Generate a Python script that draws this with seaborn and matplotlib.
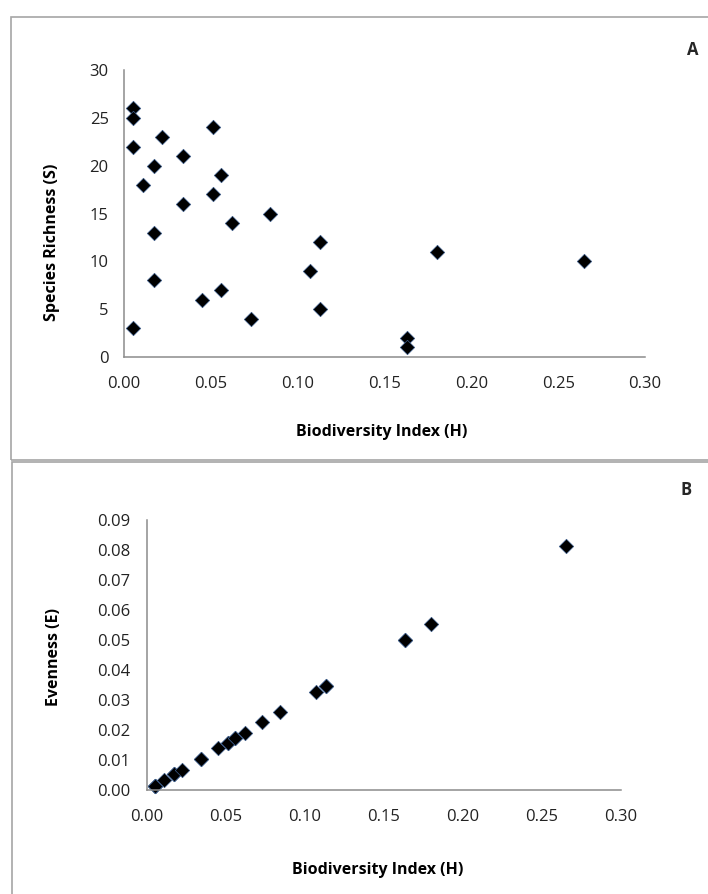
import matplotlib
matplotlib.use("Agg")
import matplotlib.pyplot as plt
import seaborn as sns
import pandas as pd
from matplotlib.patches import Rectangle
from matplotlib.ticker import FormatStrFormatter, MultipleLocator

# Biodiversity index (H) per site, species richness (S) and evenness (E)
H = [0.005, 0.005, 0.005, 0.005, 0.011, 0.017, 0.017, 0.017, 0.022, 0.034,
     0.034, 0.045, 0.051, 0.051, 0.056, 0.056, 0.062, 0.073, 0.084, 0.107,
     0.113, 0.113, 0.163, 0.163, 0.180, 0.265]
S = [26, 25, 22, 3, 18, 20, 13, 8, 23, 21,
     16, 6, 24, 17, 19, 7, 14, 4, 15, 9,
     12, 5, 2, 1, 11, 10]
E = [0.0015, 0.0015, 0.0015, 0.0015, 0.0035, 0.0052, 0.0052, 0.0052, 0.0067, 0.0103,
     0.0103, 0.0139, 0.0156, 0.0156, 0.0173, 0.0173, 0.0190, 0.0226, 0.0260, 0.0328,
     0.0348, 0.0348, 0.0501, 0.0501, 0.0553, 0.0813]

df = pd.DataFrame({"H": H, "S": S, "E": E})

sns.set_style("white")
plt.rcParams["font.family"] = ["Open Sans", "DejaVu Sans"]

W, Hpx = 708, 894
fig = plt.figure(figsize=(W / 100, Hpx / 100), dpi=100)


def fx(px):
    return px / W


def fy(py):
    return 1 - py / Hpx


# panel frames (they run off the right / bottom edge like the original)
fig.patches.append(Rectangle((fx(10.5), fy(460)), fx(720), fy(17.5) - fy(460),
                             transform=fig.transFigure, fill=False,
                             edgecolor="#a6a6a6", linewidth=1.2))
fig.patches.append(Rectangle((fx(12), fy(900)), fx(720), fy(461.5) - fy(900),
                             transform=fig.transFigure, fill=False,
                             edgecolor="#a6a6a6", linewidth=1.2))

axA = fig.add_axes([fx(124), fy(357), fx(645) - fx(124), fy(70) - fy(357)])
axB = fig.add_axes([fx(147), fy(790), fx(621) - fx(147), fy(520) - fy(790)])

marker_kw = dict(marker="D", s=54, color="black", edgecolor="#3b5b8a", linewidth=0.5)
sns.scatterplot(data=df, x="H", y="S", ax=axA, **marker_kw)
sns.scatterplot(data=df, x="H", y="E", ax=axB, **marker_kw)


def style(ax, ymax, ystep, yfmt, ypad):
    ax.set_xlim(0, 0.30)
    ax.set_ylim(0, ymax)
    ax.xaxis.set_major_locator(MultipleLocator(0.05))
    ax.yaxis.set_major_locator(MultipleLocator(ystep))
    ax.xaxis.set_major_formatter(FormatStrFormatter("%.2f"))
    ax.yaxis.set_major_formatter(FormatStrFormatter(yfmt))
    for side in ["top", "right"]:
        ax.spines[side].set_visible(False)
    for side in ["left", "bottom"]:
        ax.spines[side].set_color("#8c8c8c")
        ax.spines[side].set_linewidth(1.1)
    ax.tick_params(axis="both", direction="out", length=5, width=1.1,
                   color="#8c8c8c", labelsize=12, labelcolor="#222222")
    ax.tick_params(axis="x", pad=9)
    ax.tick_params(axis="y", pad=ypad)
    ax.set_xlabel("")
    ax.set_ylabel("")
    for c in ax.collections:
        c.set_clip_on(False)


style(axA, 30, 5, "%d", 6)
style(axB, 0.09, 0.01, "%.2f", 7)

lab = dict(fontsize=11.5, fontweight="bold", color="black", ha="center", va="center")
fig.text(fx(382), fy(432), "Biodiversity Index (H)", **lab)
fig.text(fx(52), fy(242), "Species Richness (S)", rotation=90, **lab)
fig.text(fx(378), fy(870), "Biodiversity Index (H)", **lab)
fig.text(fx(54), fy(657), "Evenness (E)", rotation=90, **lab)

fig.text(fx(693), fy(50), "A", fontsize=12, fontweight="bold", ha="center", va="center")
fig.text(fx(686), fy(490), "B", fontsize=12, fontweight="bold", ha="center", va="center")

fig.savefig("out.png", dpi=100)
